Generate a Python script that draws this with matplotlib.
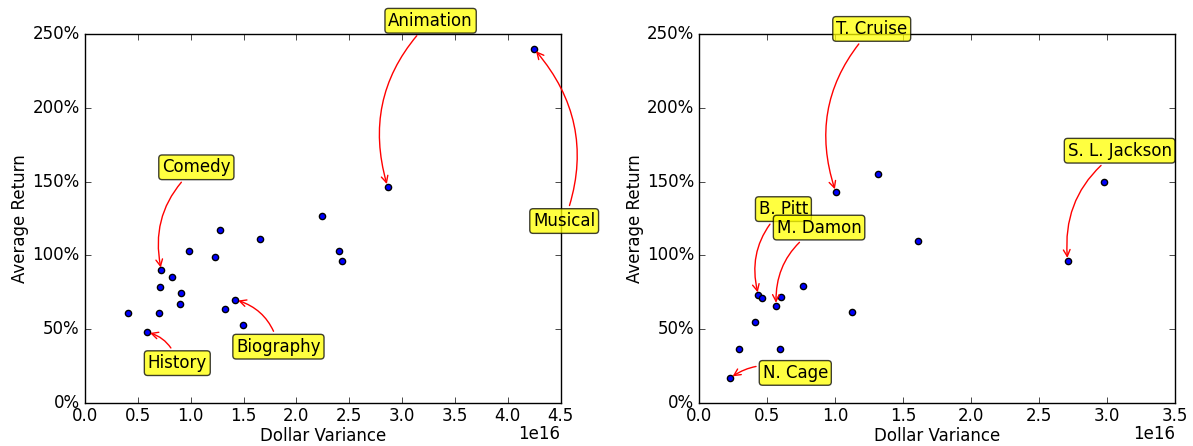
import matplotlib
matplotlib.use("Agg")
import matplotlib.pyplot as plt
from matplotlib.ticker import PercentFormatter

plt.style.use("classic")

# genre data (dollar variance in units of 1e16, average return in %)
genre_var = [0.409, 0.589, 0.722, 0.710, 0.697, 0.824, 0.910, 0.900, 0.982, 1.226,
             1.274, 1.328, 1.423, 1.492, 1.651, 2.243, 2.402, 2.436, 2.863, 4.25]
genre_ret = [61.3, 48.0, 89.9, 78.6, 61.3, 85.1, 74.7, 67.1, 102.8, 98.7,
             117.3, 63.7, 70.0, 52.8, 111.2, 126.8, 103.3, 96.5, 146.5, 239.8]
genre_labels = ["Animation", "Musical", "Comedy", "History", "Biography"]
genre_label_idx = [18, 19, 2, 1, 12]
genre_offsets = [(43, 166), (30, -172), (35, 103), (30, -31), (43, -47)]

# actor data
actor_var = [0.227, 0.288, 0.412, 0.434, 0.459, 0.564, 0.591, 0.598, 0.759, 1.003,
             1.120, 1.316, 1.608, 2.71, 2.975]
actor_ret = [17.0, 36.5, 55.2, 73.1, 71.1, 66.0, 36.5, 72.1, 79.4, 143.0,
             61.8, 155.2, 110.0, 96.4, 149.6]
actor_labels = ["T. Cruise", "S. L. Jackson", "B. Pitt", "M. Damon", "N. Cage"]
actor_label_idx = [9, 13, 3, 5, 0]
actor_offsets = [(36, 163), (52, 110), (25, 86), (43, 78), (65, 5)]

fig, (ax1, ax2) = plt.subplots(1, 2, figsize=(11.93, 4.46), dpi=100)
fig.subplots_adjust(left=0.0713, right=0.9849, bottom=0.0964, top=0.9238, wspace=0.292)


def draw(ax, xs, ys, labels, idx, offsets, xmax):
    ax.scatter([x * 1e16 for x in xs], ys, s=20, c="b", edgecolors="k", zorder=3)
    for name, i, off in zip(labels, idx, offsets):
        ax.annotate(name, xy=(xs[i] * 1e16, ys[i]), xytext=off,
                    textcoords="offset pixels", ha="center", va="center",
                    fontsize=12,
                    bbox=dict(boxstyle="round,pad=0.2", fc="yellow", alpha=0.75),
                    arrowprops=dict(arrowstyle="->", color="red",
                                    connectionstyle="arc3,rad=0.3"),
                    annotation_clip=False, zorder=4)
    ax.set_xlim(0, xmax)
    ax.set_ylim(0, 250)
    ax.yaxis.set_major_formatter(PercentFormatter(xmax=100, decimals=0))
    ax.tick_params(axis="x", pad=3)
    ax.xaxis.OFFSETTEXTPAD = 0
    ax.set_xlabel("Dollar Variance", labelpad=1)
    ax.set_ylabel("Average Return", labelpad=2)


draw(ax1, genre_var, genre_ret, genre_labels, genre_label_idx, genre_offsets, 4.5e16)
draw(ax2, actor_var, actor_ret, actor_labels, actor_label_idx, actor_offsets, 3.5e16)

fig.savefig("out.png", dpi=100, facecolor="white")
